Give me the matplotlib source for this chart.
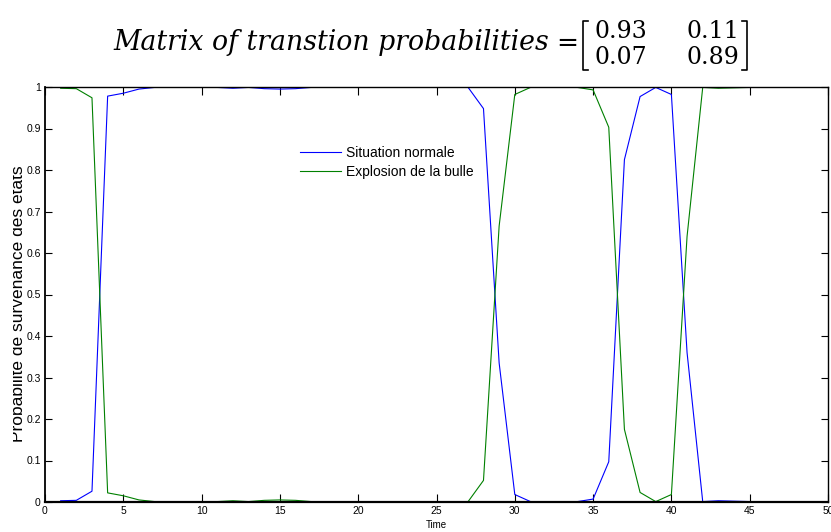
import matplotlib
matplotlib.use("Agg")
import matplotlib.pyplot as plt
from matplotlib.lines import Line2D
from matplotlib.patches import Rectangle

W, H = 831, 532

# time steps and smoothed state probabilities
t = list(range(1, 50))
normale = [0.003, 0.004, 0.026, 0.978, 0.985, 0.995, 0.999, 1.0, 1.0, 1.0,
           0.999, 0.997, 0.999, 0.996, 0.995, 0.996, 0.999, 1.0, 1.0, 1.0,
           1.0, 1.0, 1.0, 1.0, 1.0, 1.0, 1.0, 0.948, 0.335, 0.018,
           0.001, 0.0, 0.0, 0.001, 0.007, 0.097, 0.825, 0.977, 0.999, 0.982,
           0.36, 0.001, 0.003, 0.002, 0.001, 0.001, 0.001, 0.001, 0.001]
explosion = [0.997, 0.996, 0.974, 0.022, 0.015, 0.005, 0.001, 0.0, 0.0, 0.0,
             0.001, 0.003, 0.001, 0.004, 0.005, 0.004, 0.001, 0.0, 0.0, 0.0,
             0.0, 0.0, 0.0, 0.0, 0.0, 0.0, 0.0, 0.052, 0.665, 0.982,
             0.999, 1.0, 1.0, 0.999, 0.993, 0.903, 0.175, 0.023, 0.001, 0.018,
             0.64, 0.999, 0.997, 0.998, 0.999, 0.999, 0.999, 0.999, 0.999]
labels = ["Situation normale", "Explosion de la bulle"]
matrix = [["0.93", "0.11"], ["0.07", "0.89"]]
xticks = list(range(0, 51, 5))
yticks = [0, 0.1, 0.2, 0.3, 0.4, 0.5, 0.6, 0.7, 0.8, 0.9, 1]


def px(x, y):
    return x / W, 1 - y / H


tickfont = ["Liberation Sans Narrow", "Liberation Sans", "DejaVu Sans"]

fig = plt.figure(figsize=(W / 100, H / 100), dpi=100)
ax = fig.add_axes([45 / W, 30 / H, 783 / W, 415 / H])

ax.plot(t, normale, color="#0000ff", lw=0.8, label=labels[0])
ax.plot(t, explosion, color="#008000", lw=0.8, label=labels[1])

ax.set_xlim(0, 50)
ax.set_ylim(0, 1)
ax.set_xticks(xticks)
ax.set_yticks(yticks)
ax.set_yticklabels(["0", "0.1", "0.2", "0.3", "0.4", "0.5", "0.6", "0.7", "0.8", "0.9", "1"])
ax.tick_params(direction="in", top=True, right=True, labelsize=7.5, width=0.8)
ax.tick_params(axis="x", length=6, pad=3)
ax.tick_params(axis="y", length=5, pad=3)
for lab in ax.get_xticklabels() + ax.get_yticklabels():
    lab.set_family(tickfont)
for s in ax.spines.values():
    s.set_linewidth(1.0)
ax.spines["bottom"].set_linewidth(1.6)
ax.spines["left"].set_linewidth(1.3)

ax.set_xlabel("Time", fontsize=7, family=tickfont, labelpad=3)

leg = ax.legend(loc="upper left", bbox_to_anchor=(0.31, 0.888), frameon=False,
                prop={"family": "Liberation Sans", "size": 10},
                handlelength=2.9, handletextpad=0.4, labelspacing=0.35)

# y label, partly cut off at the left edge as in the original
fig.text(*px(19, 304), "Probabilité de survenance des états", rotation=90,
         ha="center", va="center", fontsize=12.5, family="Liberation Sans")
fig.patches.append(Rectangle(px(0, 480), 13 / W, 340 / H, transform=fig.transFigure,
                             facecolor="white", edgecolor="none", zorder=10))

# title with transition matrix
fig.text(*px(113, 42), "Matrix of transtion probabilities", style="italic",
         ha="left", va="center", family="DejaVu Serif", fontsize=19.3)
fig.text(*px(567, 44), "=", ha="center", va="center", family="DejaVu Serif", fontsize=19)
for i, row in enumerate(matrix):
    y = 32 + 25 * i
    fig.text(*px(594, y), row[0], ha="left", va="center", family="DejaVu Serif", fontsize=17)
    fig.text(*px(686, y), row[1], ha="left", va="center", family="DejaVu Serif", fontsize=17)

for xs, ys in [([588, 583, 583, 588], [21, 21, 70, 70]),
               ([742, 747, 747, 742], [21, 21, 70, 70])]:
    fig.lines.append(Line2D([x / W for x in xs], [1 - y / H for y in ys],
                            transform=fig.transFigure, color="black", lw=1.2))

fig.savefig("out.png", dpi=100)
